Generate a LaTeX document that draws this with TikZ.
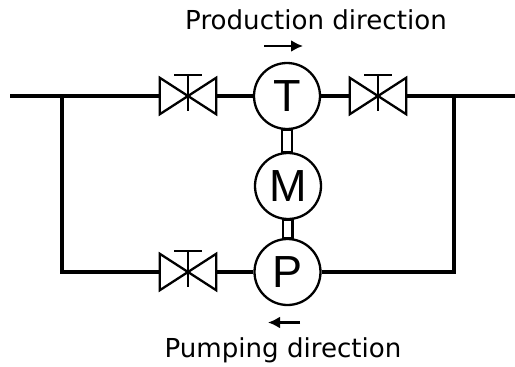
\documentclass[tikz,border=0pt]{standalone}
\usepackage{fontspec}
\setmainfont{DejaVu Sans}
\newfontfamily\letterfont{Liberation Sans}
\usetikzlibrary{arrows.meta,positioning,calc}
\tikzset{
  pipe/.style={line width=3.6pt},
  machine/.style={circle,draw,line width=2.3pt,fill=white,minimum size=66pt,inner sep=0pt,font=\letterfont\fontsize{45}{45}\selectfont},
  valvebox/.style={rectangle,minimum width=56pt,minimum height=36pt,inner sep=0pt},
  shaft/.style={draw,line width=2.2pt,fill=white},
  flow/.style={line width=2.3pt,-{Latex[length=12pt,width=12pt]}},
  caption/.style={font=\fontsize{26.1}{26.1}\selectfont,inner sep=0pt,anchor=base}
}
\begin{document}
\begin{tikzpicture}[x=1pt,y=-1pt]
\useasboundingbox (0,0) rectangle (515,367);
\node[machine] (T) at (287,96) {T};
\node[machine] (M) at (288,186) {M};
\node[machine] (P) at (287.5,272) {P};
\node[valvebox] (vtl) at (188,96) {};
\node[valvebox] (vtr) at (378,96) {};
\node[valvebox] (vbl) at (188,272) {};
\coordinate (inlet) at (10,96);
\coordinate (outlet) at (515,96);
\coordinate (jl) at (62,96);
\coordinate (jr) at (454,96);
\coordinate (bl) at (62,272);
\coordinate (br) at (454,272);
% pipework
\draw[pipe] (inlet) -- (vtl.west);
\draw[pipe] (vtl.east) -- (T);
\draw[pipe] (T) -- (vtr.west);
\draw[pipe] (vtr.east) -- (outlet);
\draw[pipe,line join=miter] (jl) -- (bl) -- (vbl.west);
\draw[pipe] (vbl.east) -- (P);
\draw[pipe,line join=miter] (P) -- (br) -- (jr);
% valves
\foreach \v in {vtl,vtr,vbl} {
  \draw[line width=2.3pt,line join=miter] (\v.north west) -- (\v.south east) -- (\v.north east) -- (\v.south west) -- cycle;
  \draw[line width=2.3pt] ($(\v.center)+(0,-21)$) -- ($(\v.center)+(0,15)$);
  \draw[line width=2.3pt] ($(\v.center)+(-14,-21)$) -- ($(\v.center)+(14,-21)$);
}
% shafts
\filldraw[shaft] ($(T.south)+(-5,0)$) rectangle ($(M.north)+(4,0)$);
\filldraw[shaft] ($(M.south)+(-5,0)$) rectangle ($(P.north)+(5,0)$);
% directions
\coordinate (pa) at (264,46);
\coordinate (pb) at (303,46);
\coordinate (qa) at (300,322.5);
\coordinate (qb) at (268,322.5);
\draw[flow] (pa) -- (pb);
\draw[flow] (qa) -- (qb);
\node[caption] (prod) at (316,29.5) {Production direction};
\node[caption] (pump) at (283,357) {Pumping direction};
\end{tikzpicture}
\end{document}
